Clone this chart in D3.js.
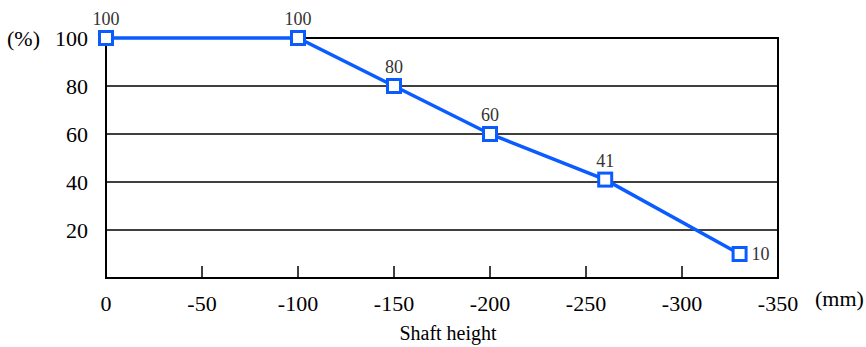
<!DOCTYPE html>
<html><head><meta charset="utf-8">
<script src="https://cdn.jsdelivr.net/npm/d3@7"></script>
<style>body{margin:0;background:#fff}svg{display:block}text{font-family:"Liberation Serif","Times New Roman",serif}</style>
</head><body>
<script>
const heights = [0, -100, -150, -200, -260, -330];
const ratios = [100, 100, 80, 60, 41, 10];
const xTicks = [0, -50, -100, -150, -200, -250, -300, -350];
const yTicks = [20, 40, 60, 80, 100];

const W = 866, H = 347;
const svg = d3.select("body").append("svg").attr("width", W).attr("height", H);
const x = d3.scaleLinear().domain([0, -350]).range([106, 778]);
const y = d3.scaleLinear().domain([0, 100]).range([278, 38]);

svg.append("g").selectAll("line").data(yTicks.filter(v => v < 100)).join("line")
  .attr("x1", x(0)).attr("x2", x(-350)).attr("y1", d => y(d)).attr("y2", d => y(d))
  .attr("stroke", "#000").attr("stroke-width", 1.5);
svg.append("rect").attr("x", x(0)).attr("y", y(100)).attr("width", x(-350) - x(0)).attr("height", y(0) - y(100))
  .attr("fill", "none").attr("stroke", "#000").attr("stroke-width", 2);
svg.append("g").selectAll("line").data(xTicks.slice(1, -1)).join("line")
  .attr("x1", d => x(d)).attr("x2", d => x(d)).attr("y1", y(0)).attr("y2", y(0) - 12)
  .attr("stroke", "#000").attr("stroke-width", 1.5);
svg.append("g").selectAll("text").data(xTicks).join("text")
  .attr("x", d => x(d)).attr("y", 311).attr("text-anchor", "middle")
  .attr("font-size", 22).text(d => d);
svg.append("g").selectAll("text").data(yTicks).join("text")
  .attr("x", 88).attr("y", d => y(d) + 8).attr("text-anchor", "end")
  .attr("font-size", 22).text(d => d);
svg.append("text").attr("x", 7).attr("y", 46).attr("font-size", 22).text("(%)");
svg.append("text").attr("x", 815).attr("y", 306).attr("font-size", 22).text("(mm)");
svg.append("text").attr("x", 448).attr("y", 340).attr("text-anchor", "middle").attr("font-size", 20).text("Shaft height");

const pts = heights.map((h, i) => ({h, v: ratios[i]}));
svg.append("path").datum(pts)
  .attr("d", d3.line().x(d => x(d.h)).y(d => y(d.v)))
  .attr("fill", "none").attr("stroke", "#0a5cff").attr("stroke-width", 3.5);
svg.append("g").selectAll("rect").data(pts).join("rect")
  .attr("x", d => x(d.h) - 6.5).attr("y", d => y(d.v) - 6.5).attr("width", 13).attr("height", 13)
  .attr("fill", "#fff").attr("stroke", "#0a5cff").attr("stroke-width", 3);
svg.append("g").selectAll("text").data(pts).join("text")
  .attr("x", (d, i) => i === pts.length - 1 ? x(d.h) + 12 : x(d.h))
  .attr("y", (d, i) => i === pts.length - 1 ? y(d.v) + 6 : y(d.v) - 13)
  .attr("text-anchor", (d, i) => i === pts.length - 1 ? "start" : "middle")
  .attr("font-size", 18).attr("fill", "#333").text(d => d.v);
</script>
</body></html>
